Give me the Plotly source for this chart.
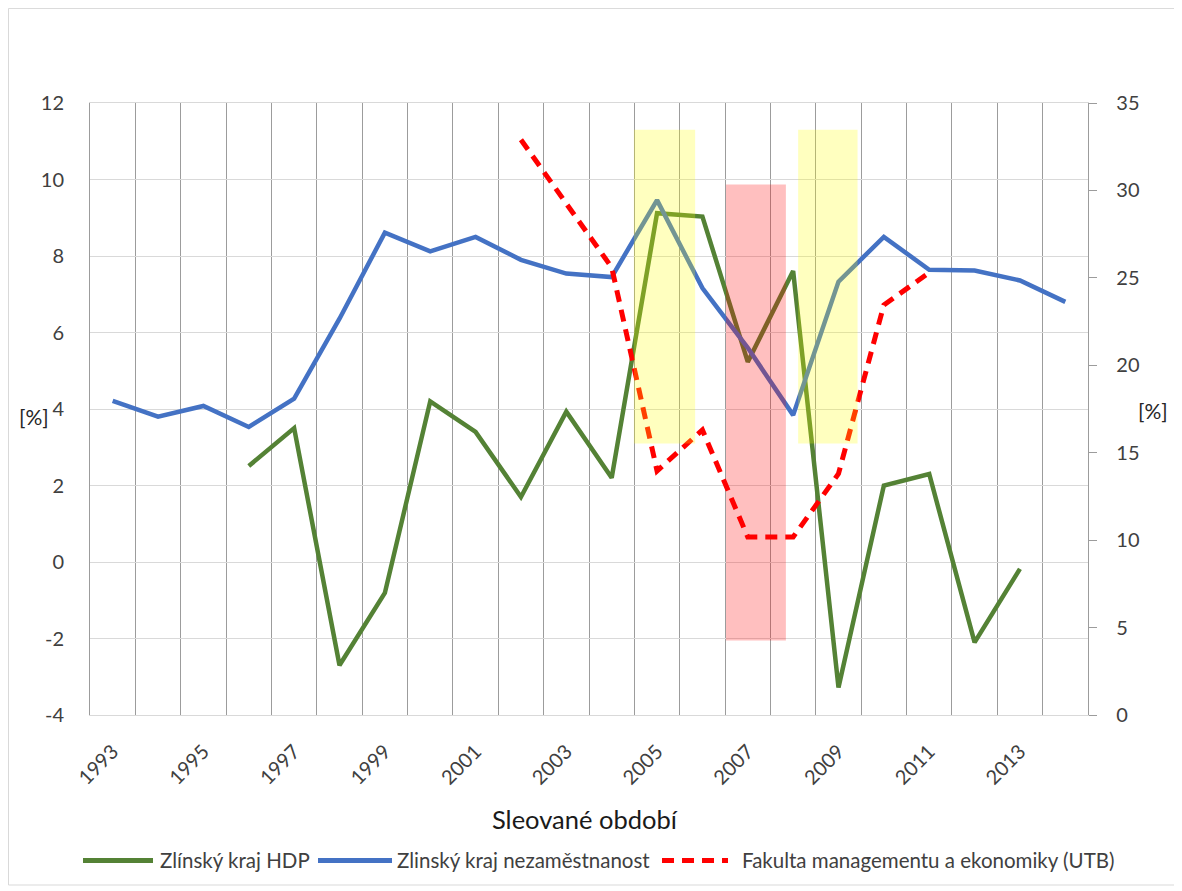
import plotly.graph_objects as go

# ---- data ----
years_unemp = list(range(1993, 2015))
unemployment = [4.21, 3.80, 4.08, 3.53, 4.27, 6.36, 8.61, 8.12, 8.50, 7.90, 7.54,
                7.45, 9.46, 7.16, 5.60, 3.84, 7.33, 8.50, 7.64, 7.62, 7.36, 6.80]

years_gdp = list(range(1996, 2014))
gdp = [2.51, 3.50, -2.70, -0.81, 4.20, 3.40, 1.70, 3.93, 2.20, 9.12, 9.03,
       5.23, 7.61, -3.28, 2.00, 2.30, -2.10, -0.18]

years_fame = list(range(2002, 2012))
fame = [32.9, 29.2, 25.6, 13.96, 16.3, 10.18, 10.18, 13.8, 23.45, 25.3]

tick_years = list(range(1993, 2014, 2))
left_ticks = [-4, -2, 0, 2, 4, 6, 8, 10, 12]

# highlighted periods: (x0, x1, y0, y1, colour)
periods = [
    (2004.49, 2005.84, 3.10, 11.30, "rgba(255,255,0,0.25)"),
    (2006.52, 2007.84, -2.05, 9.87, "rgba(255,0,0,0.25)"),
    (2008.11, 2009.42, 3.10, 11.30, "rgba(255,255,0,0.25)"),
]

names = ["Zlínský kraj HDP", "Zlinský kraj nezaměstnanost",
         "Fakulta managementu a ekonomiky (UTB)"]
colors = ["#548235", "#4472C4", "#FF0000"]

FONT = "Lato"
DASH = "12px,8px"

# screen-pixel -> paper helpers (plot area spans x 90..1088, y 103..714.6 on screen)
def px(sx):
    return (sx - 90) / 998.0

def py(sy):
    return (714.6 - sy) / 611.6

fig = go.Figure()
fig.add_trace(go.Scatter(x=years_gdp, y=gdp, mode="lines", name=names[0],
                         line=dict(color=colors[0], width=4.5), yaxis="y"))
fig.add_trace(go.Scatter(x=years_unemp, y=unemployment, mode="lines", name=names[1],
                         line=dict(color=colors[1], width=4.5), yaxis="y"))
fig.add_trace(go.Scatter(x=years_fame, y=fame, mode="lines", name=names[2],
                         line=dict(color=colors[2], width=5, dash=DASH),
                         yaxis="y2"))

shapes = []
for x0, x1, y0, y1, c in periods:
    shapes.append(dict(type="rect", xref="x", yref="y", x0=x0, x1=x1, y0=y0, y1=y1,
                       fillcolor=c, line=dict(width=0), layer="above"))
# outer chart border
shapes.append(dict(type="rect", xref="paper", yref="paper",
                   x0=px(8.5), x1=px(1177.5), y0=py(884.5), y1=py(8.5),
                   line=dict(color="#d9d9d9", width=1), layer="below"))

# manual legend (line samples + labels)
legend_items = [  # (line x0, line x1, text x)
    (83, 153, 158),
    (318, 392, 395),
    (662, 728, 740),
]
annotations = []
LEG_Y = 860
for (lx0, lx1, tx), name, col, dash in zip(legend_items, names, colors,
                                          ["solid", "solid", DASH]):
    shapes.append(dict(type="line", xref="paper", yref="paper",
                       x0=px(lx0), x1=px(lx1), y0=py(LEG_Y), y1=py(LEG_Y),
                       line=dict(color=col, width=5, dash=dash)))
    annotations.append(dict(text=name, xref="paper", yref="paper", x=px(tx), y=py(LEG_Y),
                            xanchor="left", yanchor="middle", showarrow=False,
                            font=dict(size=20.5, color="#404040", family=FONT)))

annotations += [
    dict(text="Sleované období", xref="paper", yref="paper", x=px(585), y=py(819),
         xanchor="center", yanchor="middle", showarrow=False,
         font=dict(size=25.5, color="#1a1a1a", family=FONT)),
    dict(text="[%]", xref="paper", yref="paper", x=px(34), y=py(416),
         xanchor="center", yanchor="middle", showarrow=False,
         font=dict(size=21, color="#262626", family=FONT)),
    dict(text="[%]", xref="paper", yref="paper", x=px(1153), y=py(410),
         xanchor="center", yanchor="middle", showarrow=False,
         font=dict(size=21, color="#262626", family=FONT)),
]

NB = "\u00a0"
fig.update_layout(
    width=1174, height=883,
    margin=dict(l=82, r=94, t=95, b=176.4, autoexpand=False),
    paper_bgcolor="white", plot_bgcolor="white",
    font=dict(family=FONT, size=20, color="#404040"),
    showlegend=False,
    xaxis=dict(range=[1992.5, 2014.5], tickmode="array", tickvals=tick_years,
               ticktext=[str(y) for y in tick_years], tickangle=-45,
               showgrid=False, zeroline=False, ticks="", ticklabelstandoff=16,
               showline=True, mirror=True, linecolor="#d9d9d9", linewidth=1,
               minor=dict(tickmode="linear", tick0=1992.5, dtick=1, showgrid=True,
                          gridcolor="#9c9c9c", gridwidth=1, ticks=""),
               tickfont=dict(size=20, color="#404040")),
    yaxis=dict(range=[-4, 12], tickmode="array", tickvals=left_ticks,
               ticktext=[str(v) for v in left_ticks],
               showgrid=True, gridcolor="#d9d9d9",
               zeroline=True, zerolinecolor="#d9d9d9", zerolinewidth=1,
               showline=True, linecolor="#9c9c9c", linewidth=1, ticks="",
               ticklabelstandoff=21, tickfont=dict(size=20, color="#404040")),
    yaxis2=dict(range=[0, 35], dtick=5, overlaying="y", side="right", showgrid=False,
                zeroline=False, showline=True, linecolor="#9c9c9c", linewidth=1,
                ticks="outside", ticklen=8, tickcolor="#9c9c9c",
                tickprefix=NB * 3, tickfont=dict(size=20, color="#404040")),
    shapes=shapes,
    annotations=annotations,
)

fig.write_html("out.html")
